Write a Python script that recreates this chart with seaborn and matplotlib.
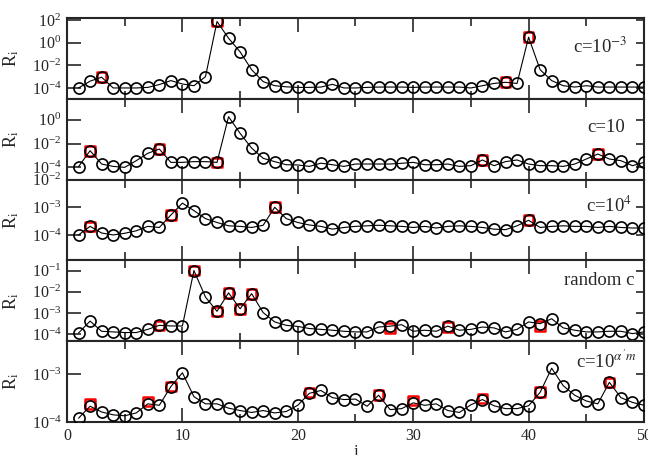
import numpy as np
import matplotlib
matplotlib.use("Agg")
import matplotlib.pyplot as plt
import seaborn as sns
from matplotlib.ticker import FixedLocator, MultipleLocator, LogFormatterMathtext

sns.set_style("ticks")
plt.rcParams['font.family'] = ['Liberation Serif', 'DejaVu Serif']
plt.rcParams['mathtext.fontset'] = 'stix'

site = np.arange(1, 51)

# log10(R_i), i = 1..50
log_r_c1em3 = [-4.0, -3.4, -3.05, -4.0, -4.0, -4.0, -3.95, -3.7, -3.35, -3.65,
               -3.8, -3.0, 1.87, 0.39, -0.81, -2.39, -3.44, -3.8, -3.9, -3.95,
               -3.95, -3.92, -3.68, -4.0, -4.0, -3.95, -3.92, -3.92, -3.92, -3.95,
               -3.92, -3.92, -3.92, -3.92, -4.0, -3.8, -3.6, -3.5, -3.6, 0.48,
               -2.39, -3.35, -3.8, -3.92, -3.8, -3.92, -3.92, -3.92, -3.92, -3.92]
log_r_c10 = [-3.94, -2.6, -3.72, -3.92, -4.0, -3.44, -2.82, -2.46, -3.58, -3.58,
             -3.52, -3.52, -3.58, 0.26, -1.14, -2.38, -3.24, -3.52, -3.78, -3.8,
             -3.92, -3.65, -3.78, -3.92, -3.72, -3.72, -3.72, -3.72, -3.66, -3.58,
             -3.78, -3.78, -3.72, -3.92, -3.86, -3.38, -3.86, -3.52, -3.38, -3.72,
             -3.86, -3.86, -3.92, -3.72, -3.3, -2.88, -3.3, -3.44, -3.86, -3.58]
log_r_c1e4 = [-4.0, -3.69, -3.93, -4.0, -3.94, -3.85, -3.69, -3.73, -3.28, -2.85,
              -3.12, -3.41, -3.55, -3.67, -3.69, -3.73, -3.65, -3.0, -3.41, -3.55,
              -3.64, -3.69, -3.79, -3.73, -3.69, -3.67, -3.65, -3.67, -3.69, -3.73,
              -3.69, -3.75, -3.69, -3.67, -3.69, -3.73, -3.79, -3.81, -3.67, -3.47,
              -3.73, -3.69, -3.67, -3.69, -3.69, -3.73, -3.69, -3.73, -3.75, -3.75]
log_r_random = [-3.94, -3.38, -3.86, -3.89, -3.92, -3.92, -3.77, -3.58, -3.61, -3.61,
                -1.0, -2.25, -2.92, -2.05, -2.8, -2.09, -2.98, -3.42, -3.58, -3.63,
                -3.73, -3.77, -3.81, -3.86, -3.89, -3.89, -3.66, -3.62, -3.55, -3.86,
                -3.81, -3.86, -3.62, -3.81, -3.77, -3.66, -3.7, -3.89, -3.77, -3.42,
                -3.5, -3.27, -3.7, -3.81, -3.89, -3.89, -3.86, -3.86, -3.97, -3.89]
log_r_alpha = [-3.92, -3.67, -3.79, -3.85, -3.87, -3.81, -3.62, -3.65, -3.26, -2.97,
               -3.47, -3.62, -3.62, -3.71, -3.76, -3.8, -3.76, -3.81, -3.78, -3.65,
               -3.4, -3.34, -3.49, -3.53, -3.52, -3.67, -3.44, -3.74, -3.72, -3.6,
               -3.65, -3.62, -3.76, -3.8, -3.64, -3.53, -3.66, -3.72, -3.72, -3.66,
               -3.38, -2.875, -3.24, -3.44, -3.56, -3.62, -3.17, -3.49, -3.59, -3.65]

# red squares (selected sites)
sq_i_c1em3 = [3, 13, 38, 40]
sq_v_c1em3 = [-3.05, 1.87, -3.5, 0.48]
sq_i_c10 = [2, 8, 13, 36, 46]
sq_v_c10 = [-2.6, -2.46, -3.58, -3.38, -2.88]
sq_i_c1e4 = [2, 9, 18, 40]
sq_v_c1e4 = [-3.69, -3.28, -3.0, -3.47]
sq_i_random = [8, 11, 13, 14, 15, 16, 28, 33, 41]
sq_v_random = [-3.58, -1.0, -2.92, -2.05, -2.8, -2.09, -3.7, -3.66, -3.61]
sq_i_alpha = [2, 7, 9, 21, 27, 30, 36, 41, 47]
sq_v_alpha = [-3.62, -3.57, -3.26, -3.38, -3.44, -3.55, -3.51, -3.37, -3.17]

panel_labels = [r'c=10$^{-3}$', 'c=10', r'c=10$^{4}$', 'random c', r"c=10$^{\alpha' m}$"]
label_pos = [(0.972, 0.64), (0.967, 0.645), (0.979, 0.68), (0.984, 0.75), (0.988, 0.765)]
ylims = [(1.1e-5, 1.5e2), (9.3e-6, 58), (1.2e-5, 1.0e-2), (4.7e-5, 0.3), (1.0e-4, 4.9e-3)]
yticks = [[1e-4, 1e-2, 1e0, 1e2], [1e-4, 1e-2, 1e0], [1e-4, 1e-3, 1e-2],
          [1e-4, 1e-3, 1e-2, 1e-1], [1e-4, 1e-3]]

series = [log_r_c1em3, log_r_c10, log_r_c1e4, log_r_random, log_r_alpha]
squares = [(sq_i_c1em3, sq_v_c1em3), (sq_i_c10, sq_v_c10), (sq_i_c1e4, sq_v_c1e4),
           (sq_i_random, sq_v_random), (sq_i_alpha, sq_v_alpha)]

fig, axes = plt.subplots(5, 1, figsize=(6.48, 4.55), dpi=100, sharex=True)
fig.subplots_adjust(left=0.1034, right=0.9938, top=0.9604, bottom=0.0725, hspace=0)

for k, ax in enumerate(axes):
    vals = 10.0 ** np.array(series[k])
    sq_i, sq_v = squares[k]
    sns.scatterplot(x=sq_i, y=10.0 ** np.array(sq_v), ax=ax, marker='s', s=48,
                    facecolor='none', edgecolor='red', linewidth=1.8, zorder=2)
    sns.lineplot(x=site, y=vals, ax=ax, color='black', lw=0.8, marker='o',
                 markersize=8, markerfacecolor='none', markeredgecolor='black',
                 markeredgewidth=1.2, zorder=3)
    ax.set_yscale('log')
    ax.set_ylim(*ylims[k])
    ax.yaxis.set_major_locator(FixedLocator(yticks[k]))
    ax.yaxis.set_minor_locator(FixedLocator([]))
    ax.yaxis.set_major_formatter(LogFormatterMathtext())
    ax.set_xlim(0, 50)
    ax.xaxis.set_major_locator(MultipleLocator(10))
    ax.xaxis.set_minor_locator(MultipleLocator(5))
    ax.tick_params(which='major', direction='in', length=10, width=1.2,
                   top=True, right=True, labelsize=11.5)
    ax.tick_params(which='minor', direction='in', length=6, width=1.2,
                   top=True, right=True)
    ax.tick_params(axis='y', which='major', pad=4)
    # shorter ticks on the right-hand side
    for t in ax.yaxis.get_major_ticks():
        t.tick2line.set_markersize(6)
    for sp in ax.spines.values():
        sp.set_linewidth(1.5)
    ax.set_ylabel(r'R$_{\mathrm{i}}$', fontsize=13)
    ax.yaxis.set_label_coords(-0.08, 0.5)
    ax.text(label_pos[k][0], label_pos[k][1], panel_labels[k], transform=ax.transAxes,
            ha='right', va='center', fontsize=13.5)
    ax.set_xlabel('')

axes[-1].set_xlabel('i', fontsize=12, labelpad=0)
axes[-1].tick_params(axis='x', labelsize=11.5, pad=4)

fig.savefig('out.png', dpi=100)
